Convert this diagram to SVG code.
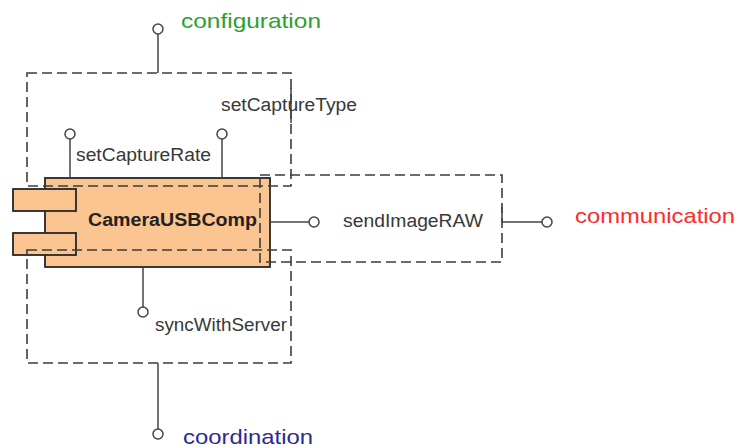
<svg xmlns="http://www.w3.org/2000/svg" width="737" height="447" viewBox="0 0 737 447">
<style>
.lbl{font-family:"Liberation Sans",Arial,sans-serif;font-size:18px;fill:#383838}
.big{font-family:"Liberation Sans",Arial,sans-serif;font-size:21px}
.comp{fill:#fbc591;stroke:#262626;stroke-width:1.8}
.dash{fill:none;stroke:#3c3c3c;stroke-width:1.6;stroke-dasharray:10 5}
.stem{stroke:#444;stroke-width:1.5;fill:none}
.ball{fill:#fff;stroke:#444;stroke-width:1.5}
</style>
<rect width="737" height="447" fill="#fff"/>
<g id="CameraUSBComp">
<rect class="comp" x="45" y="178" width="225" height="89"/>
<rect class="comp" x="13" y="189" width="63" height="22"/>
<rect class="comp" x="13" y="233" width="63" height="22"/>
<text class="lbl" x="88" y="226" font-weight="bold" style="fill:#222" textLength="169" lengthAdjust="spacingAndGlyphs">CameraUSBComp</text>
</g>
<g id="configuration">
<rect class="dash" x="27" y="73" width="264" height="113"/>
<line class="stem" x1="291" y1="88" x2="291" y2="123"/>
<text class="big" x="181" y="28" fill="#2f9e2f" textLength="140" lengthAdjust="spacingAndGlyphs">configuration</text>
</g>
<g id="coordination">
<rect class="dash" x="27" y="250" width="264" height="113"/>
<text class="big" x="183" y="444" fill="#2a2a96" textLength="130" lengthAdjust="spacingAndGlyphs">coordination</text>
</g>
<g id="communication">
<rect class="dash" x="260" y="175" width="242" height="87"/>
<text class="big" x="575" y="223" fill="#ff2a2a" textLength="160" lengthAdjust="spacingAndGlyphs">communication</text>
</g>
<g id="setCaptureRate">
<text class="lbl" x="76" y="161" textLength="135" lengthAdjust="spacingAndGlyphs">setCaptureRate</text>
</g>
<g id="setCaptureType">
<text class="lbl" x="221" y="111" textLength="136" lengthAdjust="spacingAndGlyphs">setCaptureType</text>
</g>
<g id="sendImageRAW">
<text class="lbl" x="343" y="227" textLength="140" lengthAdjust="spacingAndGlyphs">sendImageRAW</text>
</g>
<g id="syncWithServer">
<text class="lbl" x="155" y="331" textLength="132" lengthAdjust="spacingAndGlyphs">syncWithServer</text>
</g>
<g id="connectors">
<line class="stem" x1="158" y1="73" x2="158" y2="34"/>
<circle class="ball" cx="158" cy="29" r="5"/>
<line class="stem" x1="70" y1="178" x2="70" y2="139"/>
<circle class="ball" cx="70" cy="134" r="5"/>
<line class="stem" x1="222" y1="178" x2="222" y2="139"/>
<circle class="ball" cx="222" cy="134" r="5"/>
<line class="stem" x1="270" y1="222" x2="309" y2="222"/>
<circle class="ball" cx="314" cy="222" r="5"/>
<path class="stem" d="M502 207 V222 H542"/>
<circle class="ball" cx="547" cy="222" r="5"/>
<line class="stem" x1="143" y1="267" x2="143" y2="307"/>
<circle class="ball" cx="143" cy="312" r="5"/>
<line class="stem" x1="158" y1="363" x2="158" y2="429"/>
<circle class="ball" cx="158" cy="434" r="5"/>
</g>
</svg>
